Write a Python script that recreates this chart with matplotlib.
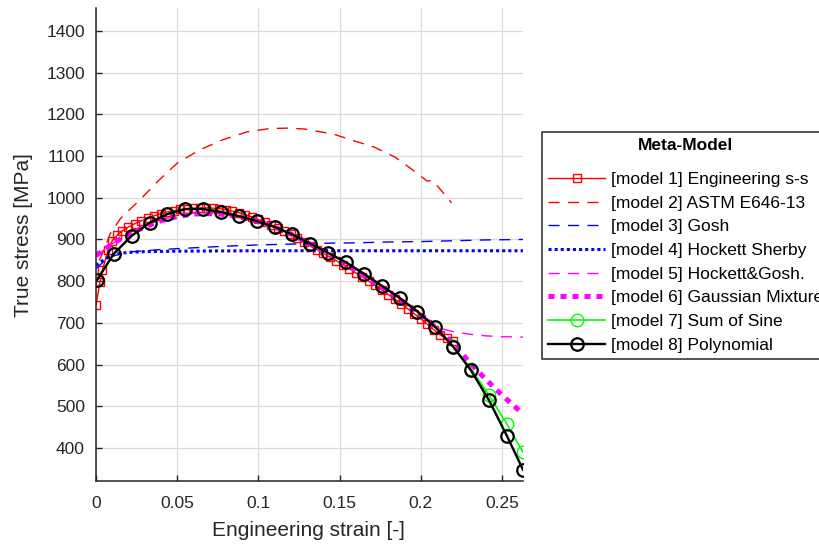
import matplotlib
matplotlib.use("Agg")
import matplotlib.pyplot as plt
from matplotlib.lines import Line2D

plt.rcParams['font.family'] = ['Liberation Sans', 'DejaVu Sans']

# ---------------- data ----------------
eng_x = [0.000, 0.0025, 0.004, 0.0074, 0.010, 0.013, 0.016, 0.020, 0.024, 0.028,
         0.032, 0.036, 0.040, 0.044, 0.048, 0.052, 0.056, 0.060, 0.064, 0.068,
         0.072, 0.076, 0.080, 0.084, 0.088, 0.092, 0.096, 0.100, 0.104, 0.108,
         0.112, 0.116, 0.120, 0.124, 0.128, 0.132, 0.136, 0.140, 0.144, 0.148,
         0.152, 0.156, 0.160, 0.164, 0.168, 0.172, 0.176, 0.180, 0.184, 0.188,
         0.192, 0.196, 0.200, 0.204, 0.208, 0.212, 0.216, 0.220]
eng_y = [743, 798, 827, 875, 897, 910, 920, 930, 938, 945,
         951, 957, 962, 966, 969, 972, 974, 975, 976, 976,
         975, 974, 971, 968, 964, 959, 954, 948, 942, 935,
         928, 920, 912, 903, 894, 885, 876, 867, 858, 849,
         840, 830, 820, 810, 800, 790, 779, 768, 757, 746,
         734, 722, 710, 697, 684, 671, 663, 657]

astm_x = [0.002, 0.005, 0.0086, 0.015, 0.027, 0.039, 0.050, 0.064, 0.078, 0.093,
          0.107, 0.118, 0.128, 0.146, 0.157, 0.171, 0.184, 0.195, 0.200, 0.204,
          0.207, 0.211, 0.219]
astm_y = [850, 875, 913, 950, 995, 1043, 1083, 1115, 1139, 1158,
          1166, 1167, 1165, 1153, 1139, 1122, 1098, 1067, 1052, 1040,
          1042, 1025, 988]

gosh_x = [0.000, 0.005, 0.010, 0.020, 0.040, 0.060, 0.080, 0.100, 0.120, 0.140,
          0.160, 0.180, 0.200, 0.220, 0.240, 0.263]
gosh_y = [830, 848, 860, 870, 876, 880, 884, 887, 889, 891,
          892, 894, 895, 897, 899, 900]

hs_x = [0.000, 0.005, 0.010, 0.015, 0.020, 0.030, 0.050, 0.100, 0.263]
hs_y = [838, 852, 862, 867, 869, 871, 872, 873, 873]

hg_x = [0.000, 0.010, 0.020, 0.030, 0.040, 0.050, 0.060, 0.070, 0.080, 0.090,
        0.100, 0.110, 0.120, 0.130, 0.140, 0.150, 0.160, 0.170, 0.180, 0.190,
        0.200, 0.210, 0.215, 0.220, 0.230, 0.240, 0.250, 0.263]
hg_y = [860, 890, 915, 933, 947, 957, 963, 964, 961, 954,
        944, 931, 915, 895, 874, 852, 828, 803, 777, 750,
        722, 692, 684, 679, 673, 669, 667, 666]

gm_x = [0.000, 0.005, 0.010, 0.020, 0.030, 0.040, 0.050, 0.060, 0.070, 0.080,
        0.090, 0.100, 0.110, 0.120, 0.130, 0.140, 0.150, 0.160, 0.170, 0.180,
        0.190, 0.200, 0.210, 0.220, 0.230, 0.240, 0.250, 0.263]
gm_y = [862, 875, 890, 912, 930, 945, 955, 961, 962, 960,
        953, 943, 930, 913, 893, 872, 850, 826, 801, 775,
        748, 718, 686, 650, 606, 565, 527, 482]

fit_x = [0.0006, 0.011, 0.022, 0.033, 0.044, 0.055, 0.066, 0.077, 0.088, 0.099,
         0.110, 0.121, 0.132, 0.143, 0.154, 0.165, 0.176, 0.187, 0.198, 0.209,
         0.220, 0.231, 0.242, 0.253, 0.263]
sine_y = [803, 866, 909, 940, 961, 973, 974, 967, 957, 944,
          929, 912, 890, 868, 845, 818, 789, 760, 727, 690,
          644, 590, 527, 458, 390]
poly_y = [803, 866, 909, 940, 961, 973, 973, 966, 956, 944,
          930, 912, 890, 868, 845, 818, 789, 760, 727, 690,
          643, 586, 515, 430, 348]

labels = ["[model 1] Engineering s-s", "[model 2] ASTM E646-13", "[model 3] Gosh",
          "[model 4] Hockett Sherby", "[model 5] Hockett&Gosh.",
          "[model 6] Gaussian Mixture", "[model 7] Sum of Sine", "[model 8] Polynomial"]
xticks = [0, 0.05, 0.1, 0.15, 0.2, 0.25]
xticklabels = ["0", "0.05", "0.1", "0.15", "0.2", "0.25"]
yticks = [400, 500, 600, 700, 800, 900, 1000, 1100, 1200, 1300, 1400]

# ---------------- figure ----------------
fig = plt.figure(figsize=(8.19, 5.44), dpi=100)
ax = fig.add_axes([96/819, 1-481/544, 427/819, 473/544])

dash = (0, (8, 6))
h = []
h += ax.plot(eng_x, eng_y, color='#ff0000', lw=1.0, marker='s', ms=5.8, mfc='none', mew=1.0)
h += ax.plot(astm_x, astm_y, color='#ff0000', lw=1.0, ls=dash)
h += ax.plot(gosh_x, gosh_y, color='#0000ff', lw=1.0, ls=dash)
h += ax.plot(hs_x, hs_y, color='#0000ff', lw=2.2, ls=(0, (1, 1)), dash_capstyle='butt')
h += ax.plot(hg_x, hg_y, color='#ff00ff', lw=1.0, ls=dash)
h += ax.plot(gm_x, gm_y, color='#ff00ff', lw=3.6, ls=(0, (1.2, 1.2)), dash_capstyle='butt')
h += ax.plot(fit_x, sine_y, color='#00ff00', lw=1.2, marker='o', ms=9, mfc='none', mew=1.0)
h += ax.plot(fit_x, poly_y, color='#000000', lw=1.7, marker='o', ms=9, mfc='none', mew=1.6)

ax.set_xlim(0, 0.263)
ax.set_ylim(321, 1455)
ax.set_xticks(xticks)
ax.set_xticklabels(xticklabels)
ax.set_yticks(yticks)
ax.grid(True, color='#dcdcdc', lw=0.9)
ax.set_axisbelow(True)
for s in ['top', 'right']:
    ax.spines[s].set_visible(False)
for s in ['left', 'bottom']:
    ax.spines[s].set_color('#262626')
    ax.spines[s].set_linewidth(1.1)
ax.tick_params(axis='both', direction='in', length=4, width=1.0, color='#262626',
               labelcolor='#262626', labelsize=12.5)
ax.tick_params(axis='x', pad=11)
ax.tick_params(axis='y', pad=8)

ax.set_xlabel("Engineering strain [-]", fontsize=15, color='#262626')
ax.set_ylabel("True stress [MPa]", fontsize=15, color='#262626')
ax.xaxis.set_label_coords(0.4977, -0.085)
ax.yaxis.set_label_coords(-0.148, 0.52)

leg = fig.legend(h, labels, loc='upper left', bbox_to_anchor=(542/819, 1-132/544),
                 borderaxespad=0, fontsize=12.5, title="Meta-Model",
                 title_fontproperties={'weight': 'bold', 'size': 12.5},
                 frameon=True, fancybox=False, edgecolor='#262626', framealpha=1,
                 handlelength=3.3, handletextpad=0.3, borderpad=0.35, labelspacing=0.49)
leg.get_frame().set_linewidth(1.1)
leg._legend_box.sep = 13.5

fig.add_artist(Line2D([542/819, 1.0], [1-160/544, 1-160/544], color='#262626', lw=1.1,
                      transform=fig.transFigure))

fig.savefig("out.png", dpi=100)
